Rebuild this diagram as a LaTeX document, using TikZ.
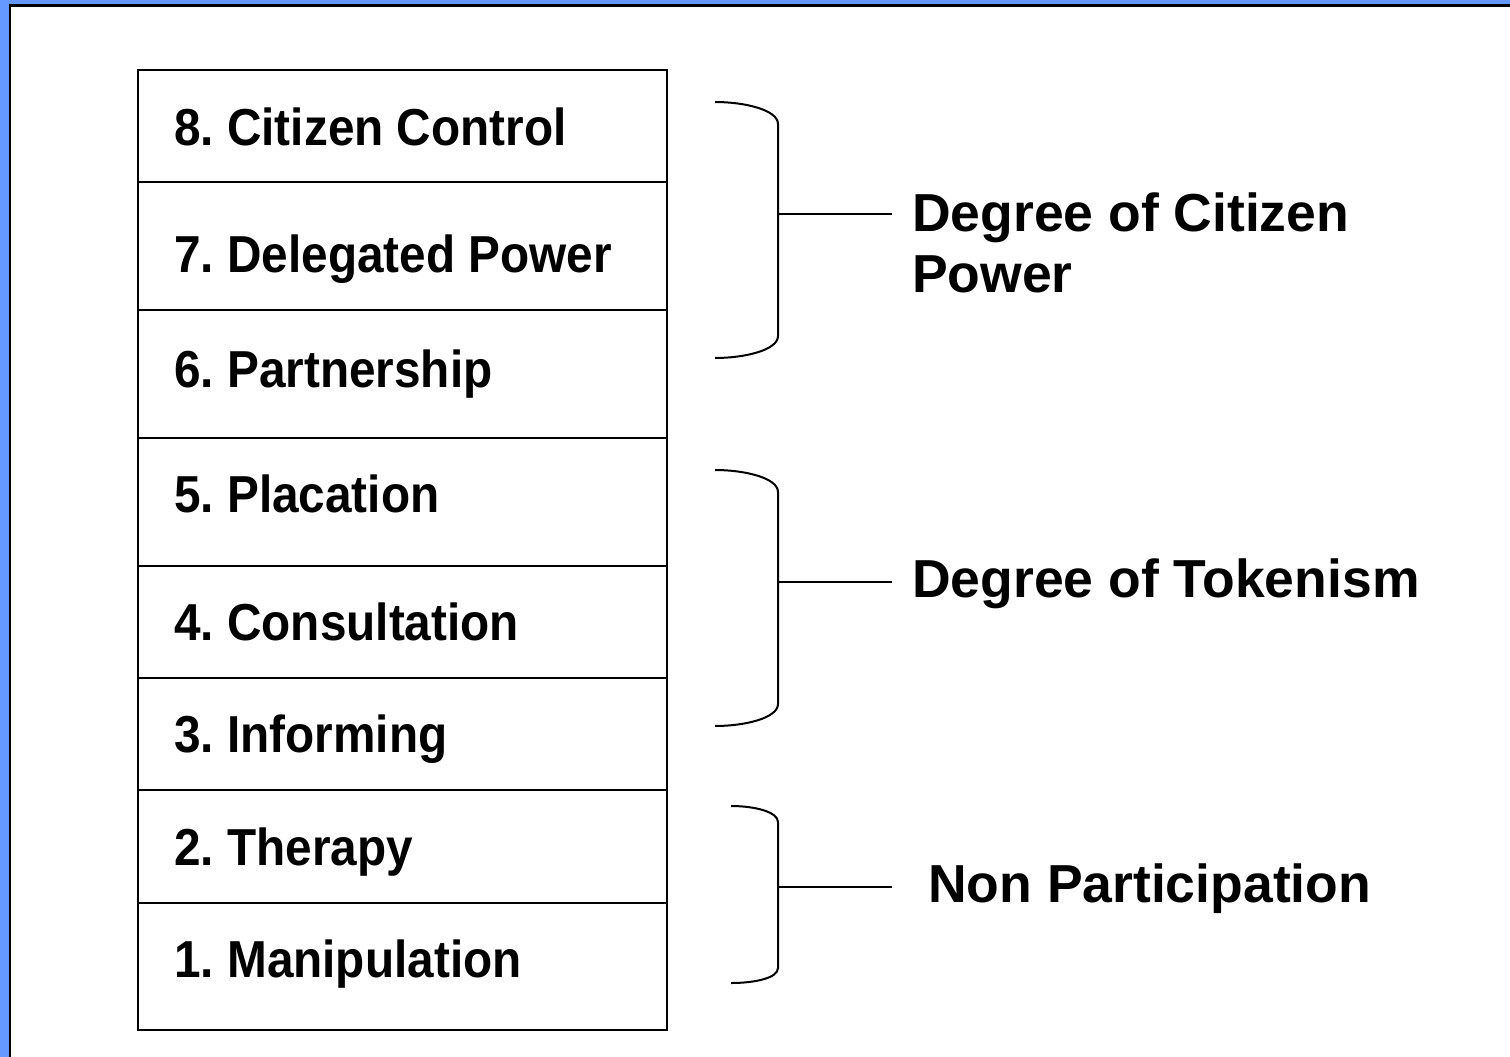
\documentclass[tikz,border=0pt]{standalone}
\usepackage{fontspec}
\usepackage{graphicx}
\setmainfont{Liberation Sans}
\definecolor{frameblue}{HTML}{6699FF}
\newcommand{\narrowtext}[1]{\scalebox{0.918}[1]{#1}}
\begin{document}
\frenchspacing
\begin{tikzpicture}[x=1pt,y=-1pt,
  rowbox/.style={draw=black,line width=2.6pt,minimum width=529pt,inner sep=0pt,outer sep=0pt,anchor=north west},
  lbl/.style={anchor=base west,inner sep=0pt,font=\fontsize{52}{61}\selectfont\bfseries\frenchspacing},
  glbl/.style={anchor=base west,inner sep=0pt,font=\fontsize{53.5}{61}\selectfont\bfseries\frenchspacing},
  brace/.style={draw=black,line width=2pt},
  conn/.style={draw=black,line width=2pt}]
\useasboundingbox (0,0) rectangle (1510,1057);
\fill[frameblue] (0,0) rectangle (1510,1057);
\fill[white] (10,6) rectangle (1510,1057);
\draw[line width=2.5pt] (10,1057) -- (10,5.75) -- (1510,5.75);
% ladder rows
\node[rowbox,minimum height=112pt] (r8) at (138,70) {};
\node[rowbox,minimum height=128pt] (r7) at (138,182) {};
\node[rowbox,minimum height=128pt] (r6) at (138,310) {};
\node[rowbox,minimum height=128pt] (r5) at (138,438) {};
\node[rowbox,minimum height=112pt] (r4) at (138,566) {};
\node[rowbox,minimum height=112pt] (r3) at (138,678) {};
\node[rowbox,minimum height=113pt] (r2) at (138,790) {};
\node[rowbox,minimum height=127pt] (r1) at (138,903) {};
% row labels
\node[lbl] (t8) at (174,145) {\narrowtext{8. Citizen Control}};
\node[lbl] (t7) at (174,272) {\narrowtext{7. Delegated Power}};
\node[lbl] (t6) at (174,387) {\narrowtext{6. Partnership}};
\node[lbl] (t5) at (174,512) {\narrowtext{5. Placation}};
\node[lbl] (t4) at (174,640) {\narrowtext{4. Consultation}};
\node[lbl] (t3) at (174,752) {\narrowtext{3. Informing}};
\node[lbl] (t2) at (174,865) {\narrowtext{2. Therapy}};
\node[lbl] (t1) at (174,977) {\narrowtext{1. Manipulation}};
% group labels
\node[glbl] (g1a) at (912,231) {Degree of Citizen};
\node[glbl] (g1b) at (912,292) {Power};
\node[glbl] (g2) at (912,597) {Degree of Tokenism};
\node[glbl] (g3) at (928,902) {Non Participation};
% braces
\draw[brace] (715,102) .. controls (745,102) and (778,110) .. (778,124) -- (778,336) .. controls (778,350) and (745,358) .. (715,358);
\draw[brace] (715,470) .. controls (745,470) and (778,478) .. (778,492) -- (778,704) .. controls (778,718) and (745,726) .. (715,726);
\draw[brace] (731,806) .. controls (755,806) and (778,812) .. (778,822) -- (778,968) .. controls (778,978) and (755,983) .. (731,983);
\coordinate (b1) at (778,214);
\coordinate (b2) at (778,582);
\coordinate (b3) at (778,887);
\coordinate (e1) at (892,214);
\coordinate (e2) at (892,582);
\coordinate (e3) at (892,887);
\draw[conn] (b1) -- (e1);
\draw[conn] (b2) -- (e2);
\draw[conn] (b3) -- (e3);
\end{tikzpicture}
\end{document}
